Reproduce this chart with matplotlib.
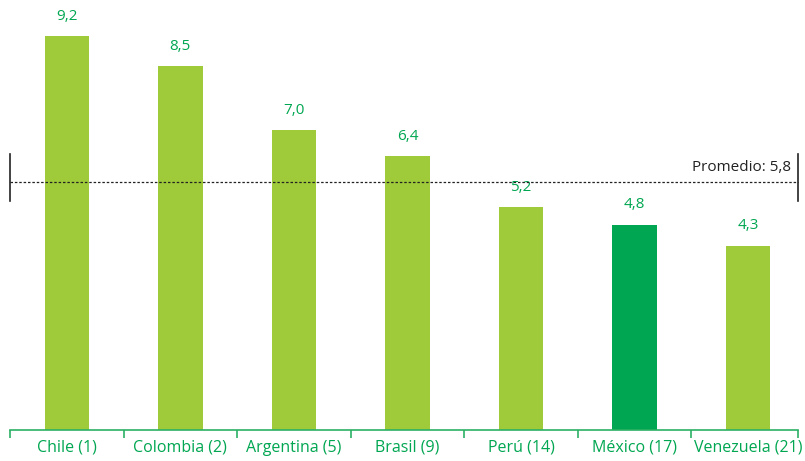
import matplotlib.pyplot as plt

paises = ['Chile (1)', 'Colombia (2)', 'Argentina (5)', 'Brasil (9)',
          'Perú (14)', 'México (17)', 'Venezuela (21)']
valores = [9.2, 8.5, 7.0, 6.4, 5.2, 4.8, 4.3]
etiquetas = ['9,2', '8,5', '7,0', '6,4', '5,2', '4,8', '4,3']
promedio = 5.8
promedio_txt = 'Promedio: 5,8'

verde_claro = '#9fcb3a'
verde_oscuro = '#00a651'
colores = [verde_oscuro if p.startswith('México') else verde_claro for p in paises]

plt.rcParams['font.family'] = ['Open Sans', 'DejaVu Sans']

fig = plt.figure(figsize=(8.05, 4.61), dpi=100)
ax = fig.add_axes([10 / 805, 31 / 461, 795 / 805, 430 / 461])

x = range(len(paises))
ax.bar(x, valores, width=0.39, color=colores, zorder=2)
for i, v in enumerate(valores):
    ax.annotate(etiquetas[i], (i, v), xytext=(0, 9), textcoords='offset points',
                ha='center', va='bottom', color=verde_oscuro, fontsize=11)

# linea del promedio
ax.plot([-0.5, 6.44], [promedio, promedio], ls=(0, (2, 1.5)), color='#222222', lw=0.9, zorder=3)
ax.plot([-0.5, -0.5], [promedio - 0.45, promedio + 0.65], color='#222222', lw=1.2, clip_on=False)
ax.plot([6.44, 6.44], [promedio - 0.45, promedio + 0.65], color='#222222', lw=1.2, clip_on=False)
ax.text(6.38, promedio + 0.15, promedio_txt, ha='right', va='bottom', fontsize=11, color='#222222')

ax.set_xlim(-0.5, 6.5)
ax.set_ylim(0, 430 / 42.8)
for s in ['top', 'right', 'left']:
    ax.spines[s].set_visible(False)
ax.spines['bottom'].set_color('#2bb064')
ax.spines['bottom'].set_linewidth(1.2)
ax.spines['bottom'].set_bounds(-0.5, 6.44)
ax.set_yticks([])
ax.set_xticks([i - 0.5 for i in range(7)] + [6.44], minor=False)
ax.set_xticklabels([])
ax.tick_params(axis='x', which='major', length=6, width=1.2, color='#2bb064', direction='out')
ax.set_xticks(list(x), minor=True)
ax.set_xticklabels(paises, minor=True, color=verde_oscuro, fontsize=11.5)
ax.tick_params(axis='x', which='minor', length=0, pad=7)

fig.savefig('out.png', dpi=100)
